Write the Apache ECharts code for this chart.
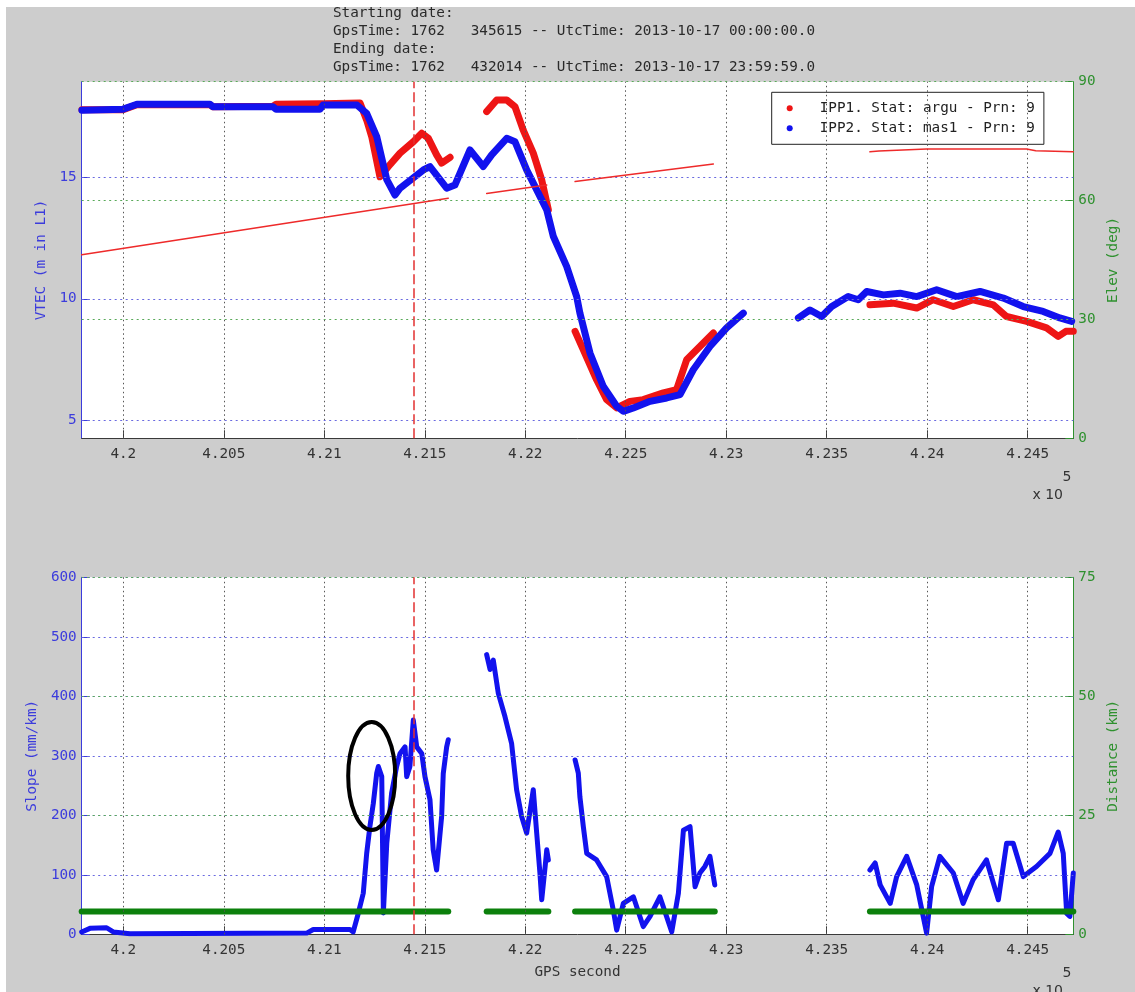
<!DOCTYPE html>
<html><head><meta charset="utf-8">
<script src="https://cdn.jsdelivr.net/npm/echarts@6/dist/echarts.min.js"></script>
<style>html,body{margin:0;padding:0;background:#cdcdcd}#c{width:1135px;height:992px}</style>
</head><body><div id="c"></div>
<script>
// ---------- data ----------
const X_MIN = 419793, X_MAX = 424727;
const X_TICKS = [420000,420500,421000,421500,422000,422500,423000,423500,424000,424500];
const VTEC_MIN = 4.26, VTEC_MAX = 18.93;
const VTEC_TICKS = [5,10,15];
const ELEV_TICKS = [0,30,60,90];
const SLOPE_TICKS = [0,100,200,300,400,500,600];
const DIST_TICKS = [0,25,50,75];
const EVENT_T = 421445;
const NAME1 = 'IPP1. Stat: argu - Prn: 9';
const NAME2 = 'IPP2. Stat: mas1 - Prn: 9';
const HEADER = ['Starting date:','GpsTime: 1762   345615 -- UtcTime: 2013-10-17 00:00:00.0','Ending date:','GpsTime: 1762   432014 -- UtcTime: 2013-10-17 23:59:59.0'];

const blueVtec1 = [[419794,17.76],[419999,17.80],[420068,18.00],[420431,18.00],[420446,17.90],[420745,17.90],[420760,17.80],[420979,17.80],[420994,17.97],[421163,17.97],[421211,17.63],[421261,16.67],[421311,14.90],[421352,14.27],[421377,14.55],[421493,15.30],[421526,15.44],[421609,14.55],[421650,14.68],[421725,16.12],[421791,15.44],[421833,15.92],[421908,16.60],[421949,16.46],[422007,15.30],[422057,14.48],[422107,13.66],[422140,12.56],[422206,11.33],[422256,10.09],[422272,9.41],[422322,7.77],[422388,6.40],[422455,5.58],[422488,5.37],[422538,5.51],[422621,5.78],[422704,5.92],[422770,6.06],[422836,7.08],[422919,8.04],[423002,8.80],[423085,9.41]];
const blueVtec2 = [[423359,9.21],[423417,9.54],[423475,9.27],[423525,9.68],[423607,10.09],[423657,9.96],[423699,10.30],[423782,10.16],[423865,10.23],[423948,10.09],[424047,10.37],[424147,10.09],[424263,10.30],[424379,10.03],[424478,9.68],[424577,9.48],[424660,9.21],[424719,9.07]];
const redVtec1 = [[419794,17.78],[419999,17.78],[420068,17.98],[420431,17.98],[420446,17.90],[420745,17.92],[420760,18.00],[420979,18.02],[420994,18.02],[421178,18.05],[421211,17.35],[421236,16.67],[421277,15.02],[421319,15.44],[421377,15.99],[421443,16.46],[421485,16.81],[421518,16.60],[421559,15.92],[421584,15.58],[421626,15.82]];
const redVtec2 = [[421808,17.70],[421858,18.18],[421908,18.18],[421949,17.90],[421990,16.94],[422040,15.99],[422082,14.89],[422115,13.66]];
const redVtec3 = [[422248,8.66],[422289,7.90],[422355,6.67],[422405,5.85],[422455,5.51],[422521,5.78],[422587,5.85],[422687,6.13],[422753,6.26],[422803,7.49],[422869,8.04],[422936,8.59]];
const redVtec4 = [[423715,9.75],[423831,9.82],[423948,9.62],[424030,9.96],[424130,9.68],[424229,9.96],[424329,9.75],[424395,9.27],[424495,9.07],[424594,8.80],[424652,8.45],[424690,8.66],[424727,8.66]];

const elev1 = [[419793,46.3],[421617,60.6]];
const elev2 = [[421808,61.8],[422107,63.9]];
const elev3 = [[422248,64.8],[422936,69.2]];
const elev4 = [[423715,72.3],[423760,72.5],[423997,73.0],[424495,73.0],[424540,72.6],[424727,72.3]];

const slope1 = [[419793,4],[419834,10],[419917,11],[419950,4],[420033,1],[420913,2],[420945,8],[421128,8],[421144,4],[421169,35],[421194,69],[421211,136],[421227,181],[421244,220],[421261,271],[421269,282],[421286,265],[421294,36],[421311,153],[421335,237],[421360,282],[421377,304],[421402,315],[421410,265],[421426,282],[421443,360],[421460,315],[421485,304],[421501,265],[421526,226],[421542,142],[421559,108],[421584,198],[421592,270],[421609,315],[421617,327]];
const slope2 = [[421808,470],[421825,445],[421841,461],[421866,405],[421899,366],[421932,321],[421957,243],[421982,198],[422007,170],[422040,243],[422057,170],[422073,103],[422082,58],[422099,114],[422107,142],[422115,125]];
const slope3 = [[422248,293],[422264,271],[422272,231],[422289,181],[422306,136],[422355,125],[422405,97],[422438,41],[422455,7],[422488,52],[422538,63],[422587,13],[422621,30],[422670,63],[422729,4],[422762,69],[422787,175],[422820,181],[422845,80],[422869,103],[422894,114],[422919,131],[422943,83]];
const slope4 = [[423715,108],[423741,120],[423766,83],[423816,52],[423848,97],[423898,131],[423948,83],[423997,2],[424022,80],[424063,131],[424130,103],[424179,52],[424229,92],[424295,125],[424354,58],[424395,153],[424428,153],[424478,97],[424544,114],[424611,136],[424652,172],[424677,136],[424694,35],[424710,30],[424727,103]];

const dist1 = [[419793,4.8],[421617,4.8]];
const dist2 = [[421808,4.8],[422115,4.8]];
const dist3 = [[422248,4.8],[422943,4.8]];
const dist4 = [[423715,4.8],[424727,4.8]];

const ELLIPSE_X = 421236, ELLIPSE_Y = 266;

// ---------- styles ----------
const MONO = '"DejaVu Sans Mono", monospace';
const FS = 14.3;
const BLUE_AX = '#3c3cdc', GREEN_AX = '#2f912f', GRAY_AX = '#3a3a3a';
const S_BLUE = '#1212ee', S_RED = '#ee1515', G_LINE = '#0c800c';
const GRID_L = 81.7, GRID_W = 991.6;

function xAxisCfg(gi, name) {
  return {type:'value', gridIndex:gi, min:X_MIN, max:X_MAX,
    axisLine:{show:true, onZero:false, lineStyle:{color:GRAY_AX, width:1}},
    axisTick:{show:true, inside:true, length:8, customValues:X_TICKS, lineStyle:{color:GRAY_AX}},
    axisLabel:{show:true, customValues:X_TICKS, formatter:v=>String(Number((v/1e5).toFixed(4))), color:'#333', fontFamily:MONO, fontSize:FS, margin:9},
    splitLine:{show:false},
    name:name||'', nameLocation:'middle', nameGap:31, nameTextStyle:{color:'#333', fontFamily:MONO, fontSize:FS}};
}
function yAxisCfg(gi, pos, min, max, ticks, color, name, gap) {
  return {type:'value', gridIndex:gi, position:pos, min, max,
    axisLine:{show:true, onZero:false, lineStyle:{color, width:1}},
    axisTick:{show:true, inside:true, length:8, customValues:ticks, lineStyle:{color}},
    axisLabel:{show:true, customValues:ticks, color, fontFamily:MONO, fontSize:FS, margin:5},
    splitLine:{show:false},
    name, nameLocation:'middle', nameRotate:90, nameGap:gap, nameTextStyle:{color, fontFamily:MONO, fontSize:FS}};
}
function gridLines(xi, yi, lines, color, dash, z) {
  return {type:'line', xAxisIndex:xi, yAxisIndex:yi, data:[], silent:true, z, symbol:'none',
    markLine:{silent:true, symbol:['none','none'], label:{show:false}, animation:false,
      lineStyle:{color, type:dash, width:1}, emphasis:{disabled:true}, data:lines}};
}
function seg(data, xi, yi, color, width, z, name) {
  return {type:'line', name:name||undefined, xAxisIndex:xi, yAxisIndex:yi, data, color, z,
    showSymbol:false, symbol:'none', silent:true, clip:true,
    lineStyle:{color, width, cap:'round', join:'round'}, emphasis:{disabled:true}};
}

const series = [];
// grid lines top
series.push(gridLines(0,0, X_TICKS.map(v=>({xAxis:v})), '#555', [1.5,3], 1));
series.push(gridLines(0,0, VTEC_TICKS.map(v=>({yAxis:v})), '#6a6ae0', [2,3.5], 1));
series.push(gridLines(0,1, ELEV_TICKS.slice(1).map(v=>({yAxis:v})), '#5aaa5a', [2,3.5], 1));
// grid lines bottom
series.push(gridLines(1,2, X_TICKS.map(v=>({xAxis:v})), '#555', [1.5,3], 1));
series.push(gridLines(1,2, SLOPE_TICKS.slice(1).map(v=>({yAxis:v})), '#6a6ae0', [2,3.5], 1));
series.push(gridLines(1,3, DIST_TICKS.slice(1).map(v=>({yAxis:v})), '#5aaa5a', [2,3.5], 1));
// top data
[redVtec1, redVtec2, redVtec3, redVtec4].forEach(d=>series.push(seg(d,0,0,S_RED,7,3,NAME1)));
[blueVtec1, blueVtec2].forEach(d=>series.push(seg(d,0,0,S_BLUE,7,4,NAME2)));
[elev1, elev2, elev3, elev4].forEach(d=>series.push(seg(d,0,1,'#ee2a2a',1.5,5,'elev')));
// bottom data
[slope1, slope2, slope3, slope4].forEach(d=>series.push(seg(d,1,2,S_BLUE,5,3,'slope')));
[dist1, dist2, dist3, dist4].forEach(d=>series.push(seg(d,1,3,G_LINE,6,4,'dist')));
// event lines
series.push(gridLines(0,0, [{xAxis:EVENT_T}], '#e23030', [10,4], 8));
series.push(gridLines(1,2, [{xAxis:EVENT_T}], '#e23030', [10,4], 8));
series.forEach(s=>{ if (s.markLine && s.z===8) s.markLine.lineStyle.width = 1.5; });

const txt = (id, x, y, text, opt) => Object.assign({type:'text', id, x, y, z:50,
  style:Object.assign({text, fill:'#2a2a2a', fontFamily:MONO, fontSize:FS, verticalAlign:'middle', align:'left'}, opt||{})});

const graphic = [
  txt('h0', 333, 13, HEADER[0]),
  txt('h1', 333, 31, HEADER[1]),
  txt('h2', 333, 49, HEADER[2]),
  txt('h3', 333, 67, HEADER[3]),
  {type:'rect', id:'wTop', z:100, shape:{x:0,y:0,width:1135,height:7}, style:{fill:'#fff'}},
  {type:'rect', id:'wLeft', z:100, shape:{x:0,y:0,width:6,height:992}, style:{fill:'#fff'}},
  txt('e1', 1067, 477, '5', {fontFamily:'"DejaVu Sans", sans-serif', fontSize:14, align:'center', fill:'#333'}),
  txt('e2', 1063, 495, 'x 10', {fontFamily:'"DejaVu Sans", sans-serif', fontSize:14, align:'right', fill:'#333'}),
  txt('e3', 1067, 973, '5', {fontFamily:'"DejaVu Sans", sans-serif', fontSize:14, align:'center', fill:'#333'}),
  txt('e4', 1063, 991, 'x 10', {fontFamily:'"DejaVu Sans", sans-serif', fontSize:14, align:'right', fill:'#333'})
];

const option = {
  animation:false,
  backgroundColor:'#cdcdcd',
  grid:[
    {left:GRID_L, top:81.7, width:GRID_W, height:356.6, show:true, backgroundColor:'#fff', borderWidth:0},
    {left:GRID_L, top:577.3, width:GRID_W, height:357, show:true, backgroundColor:'#fff', borderWidth:0}
  ],
  xAxis:[xAxisCfg(0), xAxisCfg(1,'GPS second')],
  yAxis:[
    yAxisCfg(0,'left',VTEC_MIN,VTEC_MAX,VTEC_TICKS,BLUE_AX,'VTEC (m in L1)',32),
    yAxisCfg(0,'right',0,90,ELEV_TICKS,GREEN_AX,'Elev (deg)',31),
    yAxisCfg(1,'left',0,600,SLOPE_TICKS,BLUE_AX,'Slope (mm/km)',42),
    yAxisCfg(1,'right',0,75,DIST_TICKS,GREEN_AX,'Distance (km)',31)
  ],
  legend:{show:true, orient:'vertical', left:771.7, top:92.3, padding:[9,9,9,15], itemGap:6,
    itemWidth:50, itemHeight:6, icon:'circle', borderColor:'#222', borderWidth:1, backgroundColor:'#fff',
    textStyle:{fontFamily:MONO, fontSize:FS, color:'#222', lineHeight:14}, data:[NAME1, NAME2], selectedMode:false},
  series,
  graphic
};

const chart = echarts.init(document.getElementById('c'), null, {renderer:'canvas'});
chart.setOption(option);
const p = chart.convertToPixel({xAxisIndex:1, yAxisIndex:2}, [ELLIPSE_X, ELLIPSE_Y]);
chart.setOption({graphic:[{type:'ellipse', id:'ell', z:60, shape:{cx:p[0], cy:p[1], rx:23.5, ry:54},
  style:{fill:'none', stroke:'#000', lineWidth:4}}]});
</script></body></html>
